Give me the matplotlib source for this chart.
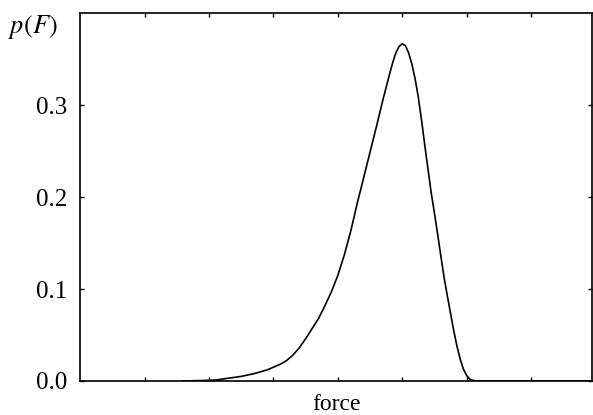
import matplotlib
matplotlib.use("Agg")
import matplotlib.pyplot as plt

# force values (axis units, ticks at integers) and density
force = [1.60, 1.90, 2.10, 2.30, 2.50, 2.70, 2.90, 3.10, 3.20, 3.30, 3.40,
         3.50, 3.60, 3.70, 3.80, 3.90, 4.00, 4.10, 4.20, 4.30, 4.40, 4.50,
         4.60, 4.70, 4.80, 4.85, 4.90, 4.95, 5.00, 5.05, 5.10, 5.15, 5.20,
         5.25, 5.30, 5.35, 5.40, 5.45, 5.50, 5.55, 5.60, 5.65, 5.70, 5.75,
         5.80, 5.85, 5.90, 5.95, 6.00, 6.05, 6.10, 6.20, 7.95]
density = [0.000, 0.0005, 0.001, 0.003, 0.005, 0.008, 0.012, 0.018, 0.022,
           0.028, 0.036, 0.046, 0.057, 0.068, 0.082, 0.097, 0.115, 0.137,
           0.163, 0.193, 0.221, 0.249, 0.277, 0.306, 0.333, 0.346, 0.357,
           0.364, 0.367, 0.365, 0.357, 0.345, 0.329, 0.309, 0.284, 0.257,
           0.231, 0.205, 0.183, 0.160, 0.136, 0.113, 0.093, 0.074, 0.055,
           0.038, 0.024, 0.013, 0.006, 0.002, 0.0005, 0.000, 0.000]

y_ticks = [0.0, 0.1, 0.2, 0.3]
y_labels = ["0.0", "0.1", "0.2", "0.3"]
x_ticks = [1, 2, 3, 4, 5, 6, 7]

plt.rcParams['font.family'] = ['Liberation Serif', 'DejaVu Serif']
plt.rcParams['mathtext.fontset'] = 'stix'

fig = plt.figure(figsize=(5.93, 4.15), dpi=100)
ax = fig.add_axes([0.1355, 0.082, 0.863, 0.8855])

ax.plot(force, density, color='black', lw=1.2)

ax.set_xlim(0, 7.95)
ax.set_ylim(0, 0.40)
ax.set_xticks(x_ticks)
ax.set_xticklabels([])
ax.set_yticks(y_ticks)
ax.set_yticklabels(y_labels, fontsize=18)
ax.tick_params(direction='in', length=3, width=1, top=True, right=True, pad=9.5)
for s in ax.spines.values():
    s.set_linewidth(1.2)

ax.set_xlabel("force", fontsize=17, labelpad=0)
fig.text(0.013, 0.935, "$p(F)$", fontsize=19, ha='left', va='center')

fig.savefig("out.png", dpi=100)
